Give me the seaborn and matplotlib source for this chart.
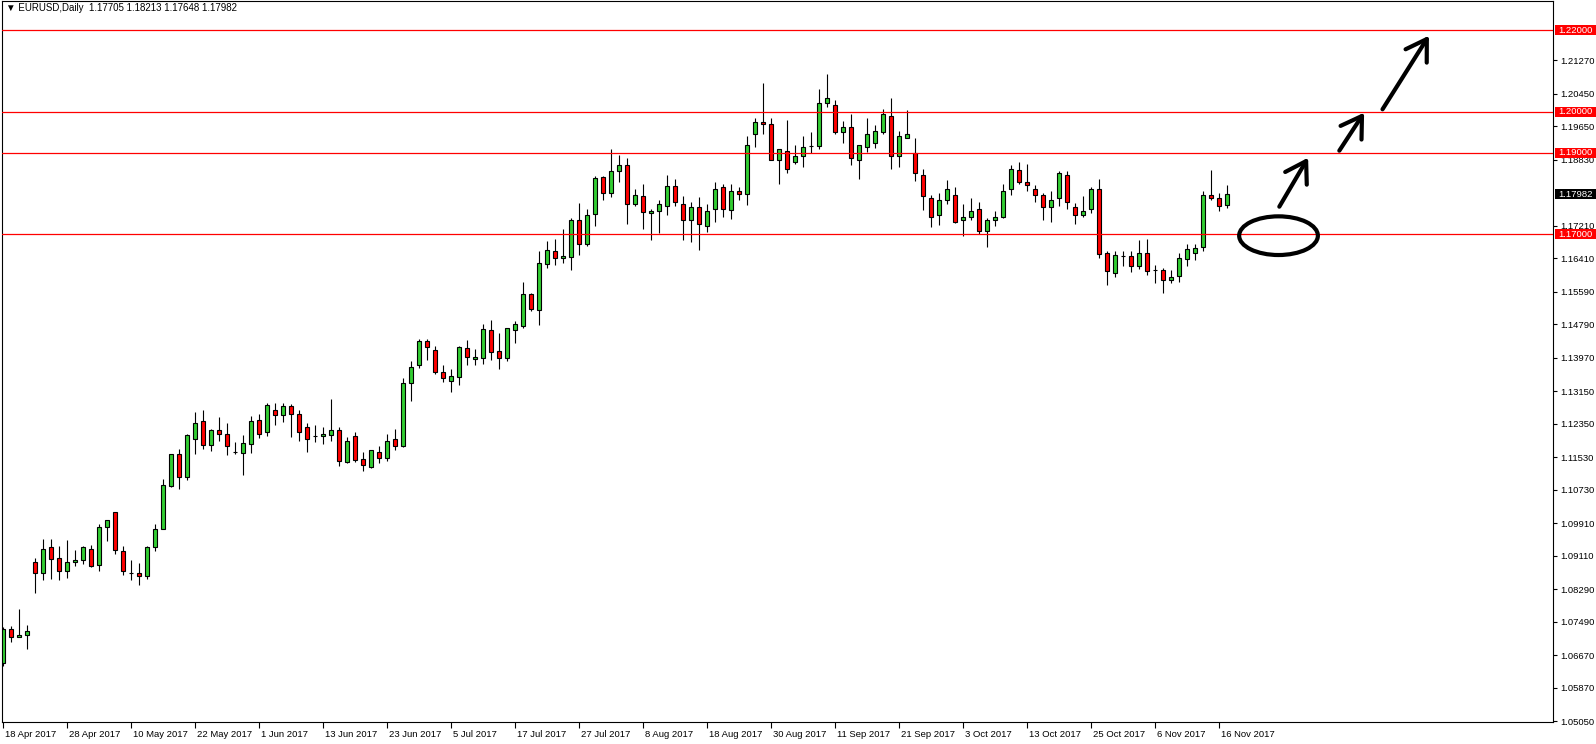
import numpy as np
import pandas as pd
import matplotlib.pyplot as plt
import matplotlib.transforms as mtransforms
from matplotlib.patches import Ellipse, Rectangle
import seaborn as sns

# EURUSD daily, 18 Apr 2017 .. 17 Nov 2017 (one value per trading day)
date_labels = ["18 Apr 2017", "28 Apr 2017", "10 May 2017", "22 May 2017", "1 Jun 2017",
               "13 Jun 2017", "23 Jun 2017", "5 Jul 2017", "17 Jul 2017", "27 Jul 2017",
               "8 Aug 2017", "18 Aug 2017", "30 Aug 2017", "11 Sep 2017", "21 Sep 2017",
               "3 Oct 2017", "13 Oct 2017", "25 Oct 2017", "6 Nov 2017", "16 Nov 2017"]

opens = [1.0649, 1.0731, 1.0711, 1.0718, 1.0897, 1.0868, 1.0932, 1.0905, 1.0873, 1.0895,
         1.0900, 1.0929, 1.0888, 1.0983, 1.1018, 1.0922, 1.0870, 1.0868, 1.0862, 1.0932,
         1.0978, 1.1083, 1.1160, 1.1104, 1.1197, 1.1241, 1.1182, 1.1219, 1.1209, 1.1166,
         1.1164, 1.1186, 1.1245, 1.1214, 1.1270, 1.1256, 1.1278, 1.1260, 1.1226, 1.1206,
         1.1206, 1.1208, 1.1219, 1.1142, 1.1206, 1.1148, 1.1130, 1.1167, 1.1152, 1.1197,
         1.1181, 1.1336, 1.1378, 1.1439, 1.1415, 1.1361, 1.1339, 1.1349, 1.1422, 1.1395,
         1.1397, 1.1464, 1.1413, 1.1397, 1.1466, 1.1476, 1.1553, 1.1513, 1.1628, 1.1660,
         1.1641, 1.1643, 1.1734, 1.1675, 1.1749, 1.1841, 1.1800, 1.1854, 1.1871, 1.1773,
         1.1793, 1.1751, 1.1756, 1.1770, 1.1819, 1.1775, 1.1734, 1.1766, 1.1719, 1.1761,
         1.1815, 1.1759, 1.1807, 1.1798, 1.1945, 1.1976, 1.1971, 1.1883, 1.1905, 1.1878,
         1.1891, 1.1916, 1.1916, 1.2023, 1.2016, 1.1951, 1.1964, 1.1881, 1.1915, 1.1923,
         1.1950, 1.1991, 1.1893, 1.1937, 1.1898, 1.1846, 1.1790, 1.1748, 1.1785, 1.1795,
         1.1736, 1.1741, 1.1761, 1.1709, 1.1734, 1.1741, 1.1810, 1.1858, 1.1827, 1.1810,
         1.1797, 1.1766, 1.1788, 1.1846, 1.1766, 1.1748, 1.1761, 1.1812, 1.1653, 1.1604,
         1.1647, 1.1646, 1.1621, 1.1655, 1.1611, 1.1611, 1.1587, 1.1597, 1.1638, 1.1655,
         1.1668, 1.1795, 1.1790, 1.17705]

highs = [1.0737, 1.0739, 1.0780, 1.0741, 1.0906, 1.0952, 1.0952, 1.0935, 1.0950, 1.0925,
         1.0934, 1.0937, 1.0989, 1.1000, 1.1018, 1.0934, 1.0901, 1.0893, 1.0934, 1.0990,
         1.1099, 1.1162, 1.1173, 1.1211, 1.1264, 1.1269, 1.1221, 1.1251, 1.1237, 1.1190,
         1.1207, 1.1254, 1.1259, 1.1285, 1.1285, 1.1285, 1.1283, 1.1270, 1.1236, 1.1233,
         1.1228, 1.1297, 1.1228, 1.1202, 1.1214, 1.1166, 1.1170, 1.1180, 1.1209, 1.1221,
         1.1348, 1.1390, 1.1444, 1.1444, 1.1427, 1.1378, 1.1369, 1.1425, 1.1440, 1.1418,
         1.1480, 1.1489, 1.1457, 1.1471, 1.1486, 1.1582, 1.1556, 1.1658, 1.1683, 1.1688,
         1.1713, 1.1739, 1.1776, 1.1763, 1.1844, 1.1844, 1.1910, 1.1894, 1.1888, 1.1812,
         1.1822, 1.1763, 1.1785, 1.1846, 1.1836, 1.1793, 1.1778, 1.1792, 1.1773, 1.1827,
         1.1824, 1.1822, 1.1817, 1.1940, 1.1986, 1.2070, 1.1984, 1.1910, 1.1979, 1.1920,
         1.1940, 1.1950, 1.2057, 1.2092, 1.2028, 1.1977, 1.1995, 1.1920, 1.1986, 1.1969,
         1.2006, 1.2033, 1.1952, 1.2004, 1.1935, 1.1861, 1.1795, 1.1802, 1.1832, 1.1815,
         1.1773, 1.1788, 1.1778, 1.1739, 1.1756, 1.1824, 1.1871, 1.1878, 1.1873, 1.1820,
         1.1800, 1.1805, 1.1856, 1.1856, 1.1776, 1.1793, 1.1817, 1.1836, 1.1658, 1.1658,
         1.1660, 1.1658, 1.1687, 1.1689, 1.1624, 1.1616, 1.1611, 1.1655, 1.1677, 1.1675,
         1.1805, 1.1858, 1.1800, 1.18213]

lows = [1.0641, 1.0700, 1.0711, 1.0683, 1.0821, 1.0852, 1.0855, 1.0852, 1.0857, 1.0885,
        1.0890, 1.0883, 1.0875, 1.0947, 1.0916, 1.0865, 1.0852, 1.0840, 1.0855, 1.0923,
        1.0976, 1.1081, 1.1076, 1.1096, 1.1161, 1.1174, 1.1169, 1.1193, 1.1159, 1.1161,
        1.1110, 1.1164, 1.1201, 1.1206, 1.1233, 1.1240, 1.1203, 1.1193, 1.1166, 1.1191,
        1.1186, 1.1193, 1.1132, 1.1139, 1.1142, 1.1120, 1.1127, 1.1139, 1.1144, 1.1171,
        1.1179, 1.1292, 1.1373, 1.1392, 1.1356, 1.1337, 1.1312, 1.1329, 1.1380, 1.1380,
        1.1382, 1.1392, 1.1370, 1.1390, 1.1434, 1.1471, 1.1511, 1.1478, 1.1618, 1.1625,
        1.1630, 1.1611, 1.1650, 1.1670, 1.1721, 1.1785, 1.1792, 1.1829, 1.1726, 1.1770,
        1.1714, 1.1687, 1.1704, 1.1748, 1.1768, 1.1687, 1.1682, 1.1662, 1.1706, 1.1731,
        1.1743, 1.1738, 1.1783, 1.1772, 1.1915, 1.1945, 1.1881, 1.1822, 1.1849, 1.1873,
        1.1866, 1.1898, 1.1910, 1.2013, 1.1946, 1.1924, 1.1870, 1.1836, 1.1901, 1.1912,
        1.1945, 1.1861, 1.1864, 1.1935, 1.1831, 1.1759, 1.1717, 1.1722, 1.1773, 1.1727,
        1.1695, 1.1734, 1.1700, 1.1668, 1.1719, 1.1739, 1.1795, 1.1824, 1.1805, 1.1780,
        1.1736, 1.1729, 1.1768, 1.1761, 1.1724, 1.1741, 1.1753, 1.1641, 1.1575, 1.1594,
        1.1621, 1.1607, 1.1614, 1.1599, 1.1580, 1.1555, 1.1580, 1.1584, 1.1623, 1.1636,
        1.1660, 1.1783, 1.1756, 1.17648]

closes = [1.0731, 1.0713, 1.0718, 1.0726, 1.0868, 1.0927, 1.0904, 1.0875, 1.0895, 1.0900,
          1.0932, 1.0885, 1.0983, 1.1000, 1.0925, 1.0875, 1.0870, 1.0861, 1.0932, 1.0976,
          1.1084, 1.1160, 1.1104, 1.1207, 1.1238, 1.1182, 1.1219, 1.1211, 1.1181, 1.1166,
          1.1187, 1.1243, 1.1211, 1.1282, 1.1256, 1.1278, 1.1258, 1.1214, 1.1197, 1.1206,
          1.1211, 1.1219, 1.1144, 1.1194, 1.1147, 1.1135, 1.1170, 1.1152, 1.1194, 1.1181,
          1.1336, 1.1375, 1.1439, 1.1424, 1.1363, 1.1347, 1.1351, 1.1423, 1.1400, 1.1400,
          1.1467, 1.1412, 1.1397, 1.1469, 1.1479, 1.1553, 1.1516, 1.1630, 1.1662, 1.1641,
          1.1646, 1.1734, 1.1675, 1.1746, 1.1839, 1.1800, 1.1854, 1.1869, 1.1773, 1.1795,
          1.1754, 1.1758, 1.1773, 1.1819, 1.1778, 1.1734, 1.1766, 1.1724, 1.1758, 1.1812,
          1.1761, 1.1805, 1.1798, 1.1920, 1.1976, 1.1971, 1.1883, 1.1908, 1.1859, 1.1893,
          1.1913, 1.1916, 1.2021, 1.2033, 1.1951, 1.1964, 1.1886, 1.1918, 1.1945, 1.1952,
          1.1994, 1.1893, 1.1940, 1.1947, 1.1849, 1.1793, 1.1743, 1.1785, 1.1812, 1.1731,
          1.1743, 1.1758, 1.1709, 1.1734, 1.1741, 1.1807, 1.1861, 1.1829, 1.1820, 1.1795,
          1.1766, 1.1785, 1.1851, 1.1778, 1.1748, 1.1758, 1.1812, 1.1651, 1.1609, 1.1648,
          1.1647, 1.1621, 1.1655, 1.1609, 1.1611, 1.1587, 1.1594, 1.1641, 1.1663, 1.1665,
          1.1797, 1.1790, 1.1768, 1.17982]

levels = [1.22, 1.20, 1.19, 1.17]
level_labels = ["1.22000", "1.20000", "1.19000", "1.17000"]
price_ticks = [1.21270, 1.20450, 1.19650, 1.18830, 1.17210, 1.16410, 1.15590, 1.14790,
               1.13970, 1.13150, 1.12350, 1.11530, 1.10730, 1.09910, 1.09110, 1.08290,
               1.07490, 1.06670, 1.05870, 1.05050]
last_price = 1.17982
title_text = "\u25bc EURUSD,Daily  1.17705 1.18213 1.17648 1.17982"

BULL = "#32CD32"
BEAR = "#FF0000"

df = pd.DataFrame({"open": opens, "high": highs, "low": lows, "close": closes})
df["idx"] = np.arange(len(df))
df["body_low"] = df[["open", "close"]].min(axis=1)
df["body_h"] = (df["close"] - df["open"]).abs()
df["fill"] = np.where(df["close"] > df["open"], BULL,
                      np.where(df["close"] < df["open"], BEAR, "black"))

sns.set_theme(style="white")
plt.rcParams["font.family"] = ["Liberation Sans", "DejaVu Sans"]

W, H = 1596, 744
fig = plt.figure(figsize=(W / 100, H / 100), dpi=100, facecolor="white")
# plot area in pixels: x 1.5..1553, y 0.5..721.8
ax = fig.add_axes([1.5 / W, (H - 721.8) / H, (1553 - 1.5) / W, (721.8 - 0.5) / H])

# wicks
ax.vlines(df["idx"], df["low"], df["high"], color="black", lw=0.8, zorder=1)
# bodies
sns.barplot(data=df, x="idx", y="body_h", bottom=df["body_low"].to_numpy(), orient="x",
            color="black", facecolor=df["fill"].tolist(), edgecolor="black",
            linewidth=0.8, width=0.5, errorbar=None, ax=ax, zorder=2)

ax.set_xlim(-0.225, 193.71)
ax.set_ylim(1.0504, 1.227328)
ax.set_xlabel("")
ax.set_ylabel("")

# horizontal levels
for lvl in levels:
    ax.axhline(lvl, color=BEAR, lw=0.9, zorder=3)

# x axis (dates every 8 bars)
ax.set_xticks(np.arange(len(date_labels)) * 8)
ax.set_xticklabels(date_labels, ha="left", fontsize=6.8)
ax.tick_params(axis="x", length=4, width=0.8, color="black", direction="out", pad=2,
               labelcolor="black", bottom=True)
shift = mtransforms.ScaledTranslation(1.5 / 72, 0, fig.dpi_scale_trans)
for lab in ax.get_xticklabels():
    lab.set_transform(lab.get_transform() + shift)

# y axis on the right
ax.yaxis.tick_right()
ax.set_yticks(price_ticks)
ax.set_yticklabels([f"{p:.5f}" for p in price_ticks], fontsize=6.8)
ax.tick_params(axis="y", length=3, width=0.8, color="black", direction="out", pad=2,
               labelcolor="black", right=True, left=False)

for side in ["left", "right", "top", "bottom"]:
    ax.spines[side].set_color("black")
    ax.spines[side].set_linewidth(0.8)
    ax.spines[side].set_visible(True)

# price boxes on the right scale
trans = mtransforms.blended_transform_factory(ax.transAxes, ax.transData)
box_w = 43 / 1551.5
box_h = 10 / 4077
for lvl, txt in zip(levels + [last_price], level_labels + [f"{last_price:.5f}"]):
    fc = "black" if txt == f"{last_price:.5f}" else BEAR
    ax.add_patch(Rectangle((1.0012, lvl - box_h / 2), box_w, box_h, transform=trans,
                           facecolor=fc, edgecolor="none", clip_on=False, zorder=6))
    ax.text(1.0035, lvl, txt, transform=trans, color="white", fontsize=6.8,
            va="center", ha="left", clip_on=False, zorder=7)

# symbol header
ax.text(4 / 1551.5, 0.997, title_text, transform=ax.transAxes, fontsize=7.0,
        va="top", ha="left", color="black", zorder=8)

# hand-drawn annotations
ax.add_patch(Ellipse((159.4, 1.16964), 9.84, 0.00949, fill=False, edgecolor="black",
                     lw=3, zorder=5))
arrows = [((159.5, 1.17675), (163.1, 1.18877)),
          ((167.0, 1.19049), (170.1, 1.19981)),
          ((172.4, 1.20064), (178.2, 1.21869))]
for tail, tip in arrows:
    ax.annotate("", xy=tip, xytext=tail,
                arrowprops=dict(arrowstyle="->,head_length=0.8,head_width=0.5",
                                color="black", lw=3, mutation_scale=18,
                                shrinkA=0, shrinkB=0),
                zorder=5)

plt.savefig("out.png", dpi=100, facecolor="white")
plt.close()
